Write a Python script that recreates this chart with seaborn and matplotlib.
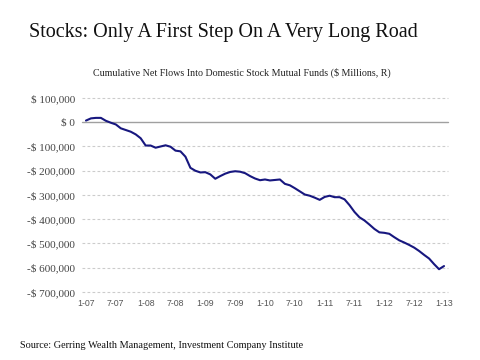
import matplotlib
matplotlib.use("Agg")
import matplotlib.pyplot as plt
import seaborn as sns
import pandas as pd

# Month index from Jan 2007 (0) to Jan 2013 (72)
months = list(range(73))
flows = [7000, 16000, 18000, 18000, 6000, -2000, -9000, -25000, -32000, -39000,
         -50000, -66000, -96000, -96000, -105000, -100000, -95000, -101000, -117000, -120000,
         -142000, -188000, -200000, -207000, -206000, -215000, -233000, -222000, -212000, -205000,
         -202000, -204000, -210000, -222000, -232000, -239000, -236000, -240000, -238000, -236000,
         -254000, -260000, -272000, -285000, -298000, -303000, -311000, -320000, -308000, -303000,
         -309000, -309000, -318000, -342000, -370000, -392000, -405000, -422000, -440000, -454000,
         -456000, -460000, -474000, -487000, -496000, -506000, -517000, -531000, -547000, -562000,
         -585000, -606000, -593000]
xtick_pos = [0, 6, 12, 18, 24, 30, 36, 42, 48, 54, 60, 66, 72]
xtick_labels = ["1-07", "7-07", "1-08", "7-08", "1-09", "7-09", "1-10", "7-10",
                "1-11", "7-11", "1-12", "7-12", "1-13"]
ytick_vals = [100000, 0, -100000, -200000, -300000, -400000, -500000, -600000, -700000]
ytick_labels = ["$ 100,000", "$ 0", "-$ 100,000", "-$ 200,000", "-$ 300,000",
                "-$ 400,000", "-$ 500,000", "-$ 600,000", "-$ 700,000"]

title = "Stocks: Only A First Step On A Very Long Road"
subtitle = "Cumulative Net Flows Into Domestic Stock Mutual Funds ($ Millions, R)"
source = "Source: Gerring Wealth Management, Investment Company Institute"

df = pd.DataFrame({"month": months, "flows": flows})

sns.set_style("white")
serif = ["Liberation Serif", "DejaVu Serif"]

fig = plt.figure(figsize=(4.8, 3.6), dpi=100)
ax = fig.add_axes([82/480, 1 - 292/360, (448-82)/480, (292-98)/360])

for v in ytick_vals:
    if v == 0:
        ax.axhline(v, color="#a0a0a0", lw=1.0, zorder=1)
    else:
        ax.axhline(v, color="#cccccc", lw=0.8, ls=(0, (2.5, 2)), zorder=1)

sns.lineplot(data=df, x="month", y="flows", ax=ax, color="#17177f", lw=1.5, zorder=3)
for l in ax.lines:
    l.set_clip_on(False)

ax.set_xlim(-0.8, 72.8)
ax.set_ylim(-700000, 100000)
ax.set_xticks(xtick_pos)
ax.set_xticklabels(xtick_labels, fontsize=6.3, color="#555555", family=["Liberation Sans", "DejaVu Sans"])
ax.set_yticks(ytick_vals)
ax.set_yticklabels(ytick_labels, fontsize=8, color="#444444", family=serif)
ax.tick_params(axis="x", length=0, pad=5)
ax.tick_params(axis="y", length=0, pad=5)
ax.set_xlabel("")
ax.set_ylabel("")
for s in ax.spines.values():
    s.set_visible(False)

fig.text(29/480, 1 - 32/360, title, fontsize=14.5, family=serif, color="#111111", va="center", ha="left")
fig.text(242/480, 1 - 73/360, subtitle, fontsize=7.2, family=serif, color="#222222", va="center", ha="center")
fig.text(20/480, 1 - 346/360, source, fontsize=7.4, family=serif, color="#111111", va="center", ha="left")

fig.savefig("out.png", dpi=100)
